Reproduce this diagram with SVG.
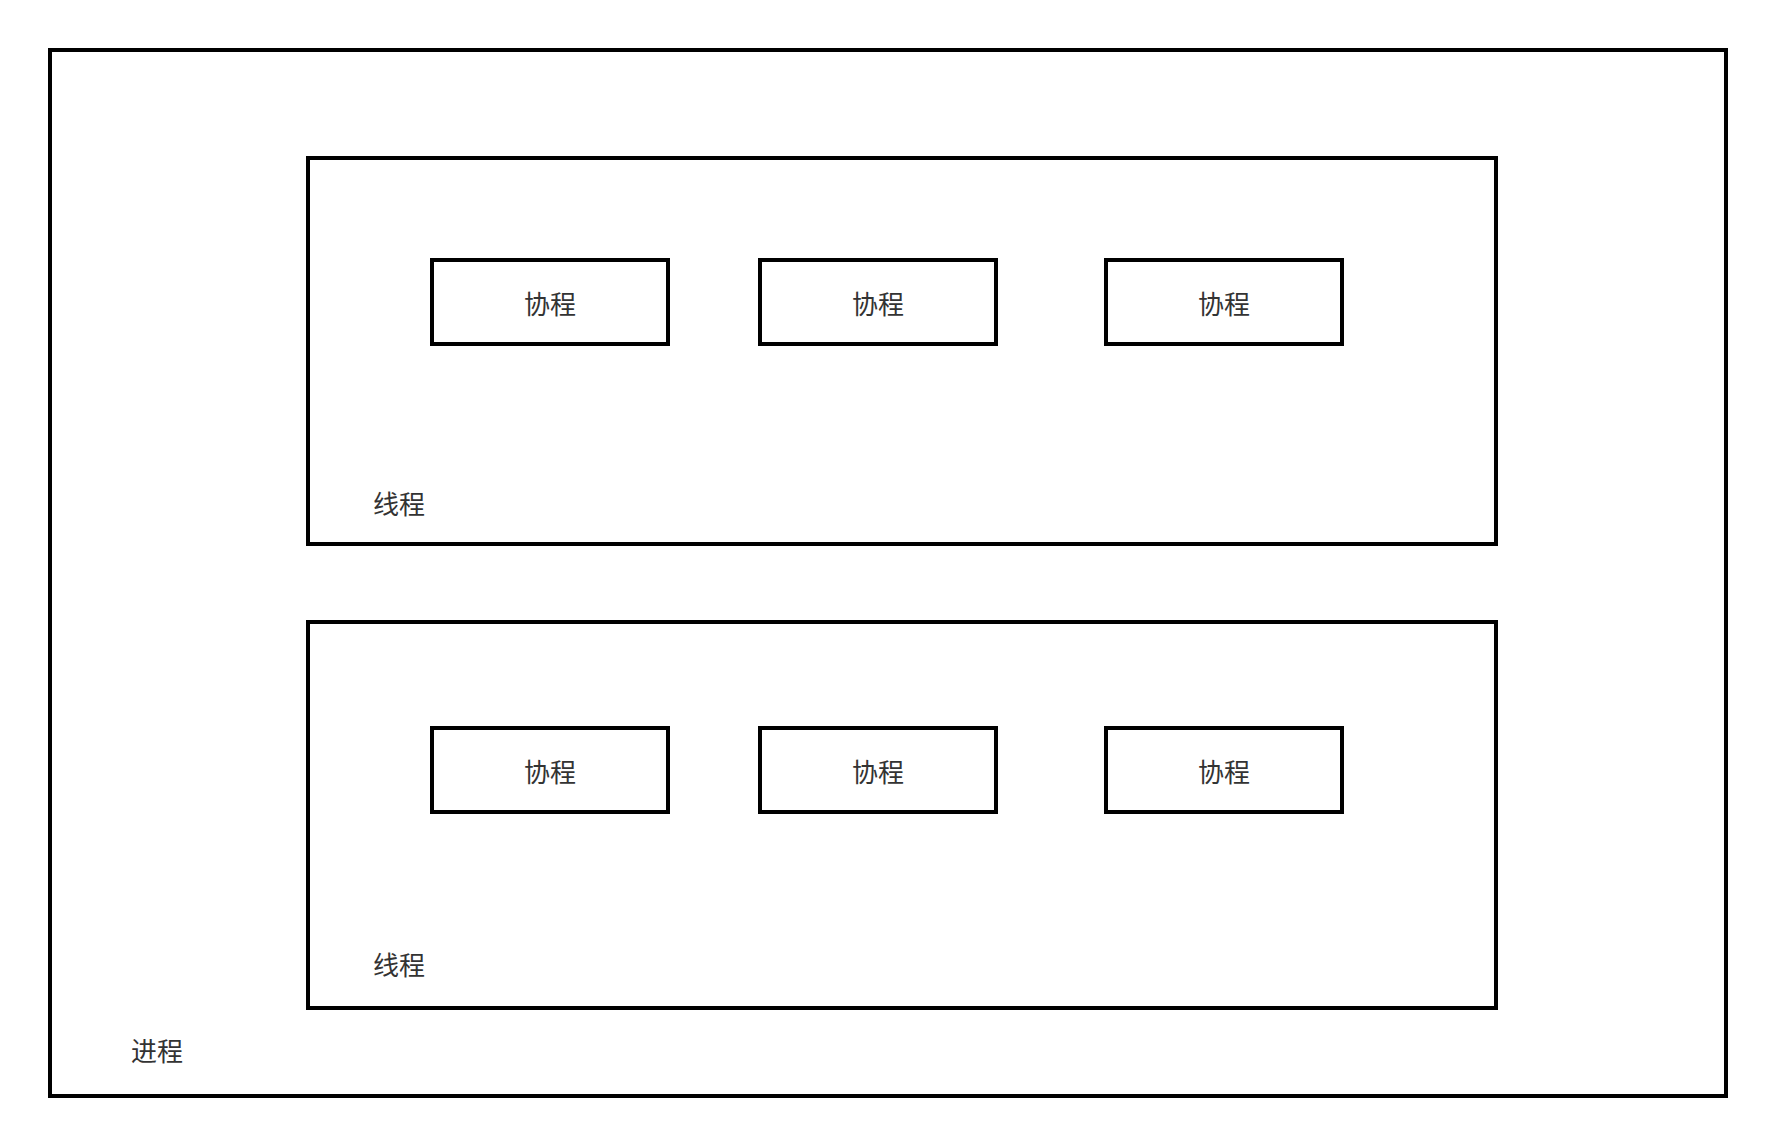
<svg xmlns="http://www.w3.org/2000/svg" width="1776" height="1146" viewBox="0 0 1776 1146">
<style>
.box{fill:none;stroke:#000;stroke-width:4}
.t{font-family:"Noto Sans CJK SC","Noto Sans",sans-serif;font-size:26px;fill:#333333}
.c{text-anchor:middle}
</style>
<rect x="0" y="0" width="1776" height="1146" fill="#ffffff"/>
<g id="process">
<rect class="box" x="50" y="50" width="1676" height="1046"/>
<text class="t" x="131" y="1061">进程</text>
</g>
<g id="thread1">
<rect class="box" x="308" y="158" width="1188" height="386"/>
<text class="t" x="373" y="514">线程</text>
</g>
<g id="thread2">
<rect class="box" x="308" y="622" width="1188" height="386"/>
<text class="t" x="373" y="975">线程</text>
</g>
<g id="co1"><rect class="box" x="432" y="260" width="236" height="84"/><text class="t c" x="550" y="314">协程</text></g>
<g id="co2"><rect class="box" x="760" y="260" width="236" height="84"/><text class="t c" x="878" y="314">协程</text></g>
<g id="co3"><rect class="box" x="1106" y="260" width="236" height="84"/><text class="t c" x="1224" y="314">协程</text></g>
<g id="co4"><rect class="box" x="432" y="728" width="236" height="84"/><text class="t c" x="550" y="782">协程</text></g>
<g id="co5"><rect class="box" x="760" y="728" width="236" height="84"/><text class="t c" x="878" y="782">协程</text></g>
<g id="co6"><rect class="box" x="1106" y="728" width="236" height="84"/><text class="t c" x="1224" y="782">协程</text></g>
<g id="connectors"></g>
</svg>
